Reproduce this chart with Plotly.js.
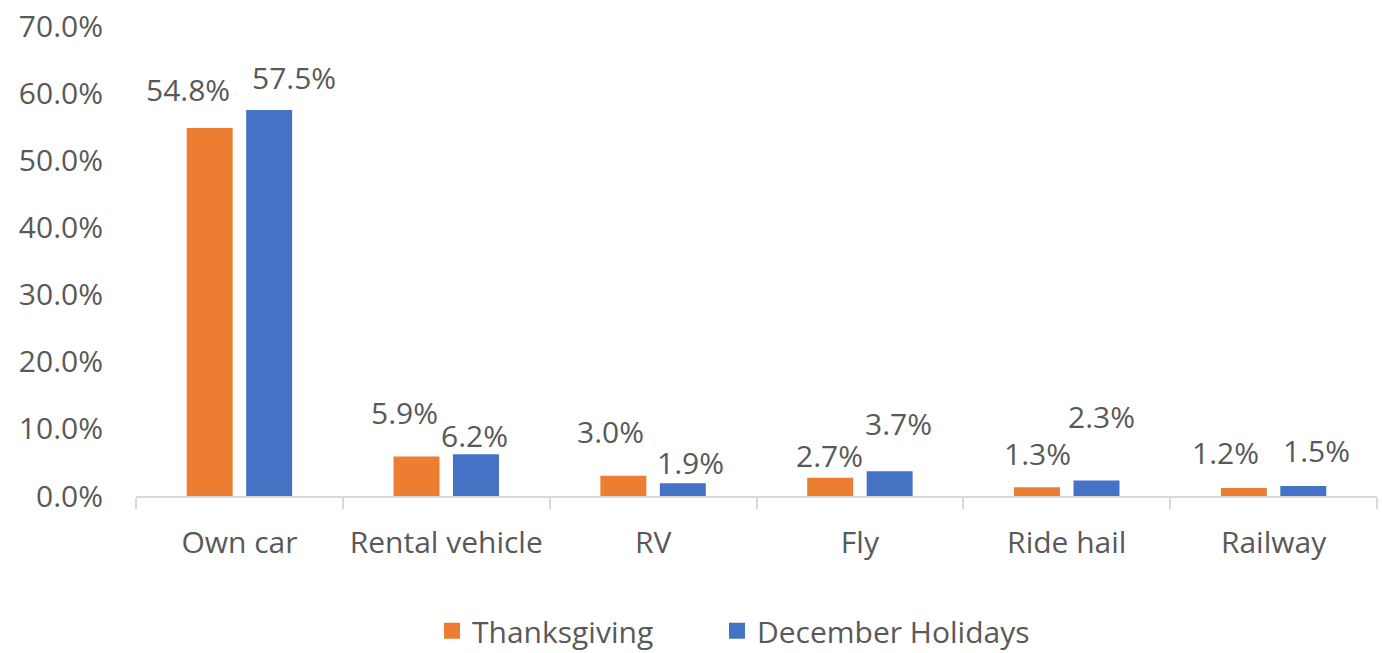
<!DOCTYPE html>
<html>
<head>
<meta charset="utf-8">
<script src="https://cdn.plot.ly/plotly-3.0.1.min.js"></script>
<style>html,body{margin:0;padding:0;background:#fff;}#chart{width:1382px;height:653px;}</style>
</head>
<body>
<div id="chart"></div>
<script>
const categories = ['Own car', 'Rental vehicle', 'RV', 'Fly', 'Ride hail', 'Railway'];
const seriesNames = ['Thanksgiving', 'December Holidays'];
const thanksgiving = [0.548, 0.059, 0.030, 0.027, 0.013, 0.012];
const december = [0.575, 0.062, 0.019, 0.037, 0.023, 0.015];
const yTickVals = [0, 0.1, 0.2, 0.3, 0.4, 0.5, 0.6, 0.7];

// label nudges (pixels) relative to the top-centre of each bar
const thanksDx = [-22, -12, -13, -1, 0, -18];
const thanksDy = [38, 43, 43, 21, 33, 34];
const decDx = [25, -1.5, 8, 9, 5, 13];
const decDy = [31, 18, 20, 47, 63, 34];

const orange = '#ED7D31';
const blue = '#4472C4';
const txt = '#595959';
const font = 'Open Sans, sans-serif';

const W = 1382, H = 653;
const margin = {l: 136, r: 5, t: 26, b: 157};
const bargap = 0.425;
const plotW = W - margin.l - margin.r;
const slot = plotW / categories.length * (1 - bargap) / 2;

const traces = [
  {type: 'bar', x: categories, y: thanksgiving, name: seriesNames[0],
   marker: {color: orange}, showlegend: false, hoverinfo: 'skip'},
  {type: 'bar', x: categories, y: december, name: seriesNames[1],
   marker: {color: blue}, showlegend: false, hoverinfo: 'skip'},
  {type: 'scatter', mode: 'markers', x: [null], y: [null], name: seriesNames[0],
   legend: 'legend', marker: {symbol: 'square', color: orange, size: 16}},
  {type: 'scatter', mode: 'markers', x: [null], y: [null], name: seriesNames[1],
   legend: 'legend2', marker: {symbol: 'square', color: blue, size: 16}}
];

const annotations = [];
categories.forEach((c, i) => {
  annotations.push({x: c, y: thanksgiving[i], xref: 'x', yref: 'y',
    text: (thanksgiving[i] * 100).toFixed(1) + '%', showarrow: false,
    xanchor: 'center', yanchor: 'middle',
    xshift: -slot / 2 + thanksDx[i], yshift: thanksDy[i] + 1,
    font: {family: font, size: 30, color: txt}});
  annotations.push({x: c, y: december[i], xref: 'x', yref: 'y',
    text: (december[i] * 100).toFixed(1) + '%', showarrow: false,
    xanchor: 'center', yanchor: 'middle',
    xshift: slot / 2 + decDx[i], yshift: decDy[i] + 1,
    font: {family: font, size: 30, color: txt}});
});

const legendBase = {orientation: 'h', xanchor: 'left', xref: 'container',
  y: 0.034, yanchor: 'middle', yref: 'container',
  bgcolor: 'rgba(0,0,0,0)', font: {family: font, size: 30, color: txt}};

const layout = {
  width: W, height: H, margin: margin,
  paper_bgcolor: '#ffffff', plot_bgcolor: '#ffffff',
  font: {family: font, size: 30, color: txt},
  barmode: 'group', bargap: bargap, bargroupgap: 0.227,
  showlegend: true,
  legend: Object.assign({}, legendBase, {x: 0.3126}),
  legend2: Object.assign({}, legendBase, {x: 0.5188}),
  xaxis: {type: 'category', categoryarray: categories, showgrid: false, zeroline: false,
    automargin: false,
    showline: true, linecolor: '#D9D9D9', linewidth: 2,
    ticks: 'outside', tickson: 'boundaries', ticklen: 11, tickcolor: '#D9D9D9', tickwidth: 2,
    ticklabelstandoff: 19,
    tickfont: {family: font, size: 30, color: txt}},
  yaxis: {range: [0, 0.7], tickvals: yTickVals, tickformat: '.1%', showgrid: false,
    automargin: false,
    zeroline: false, showline: false, ticks: '', ticklabelstandoff: 32,
    tickfont: {family: font, size: 30, color: txt}},
  annotations: annotations
};

Plotly.newPlot('chart', traces, layout, {displayModeBar: false, staticPlot: true});
</script>
</body>
</html>
